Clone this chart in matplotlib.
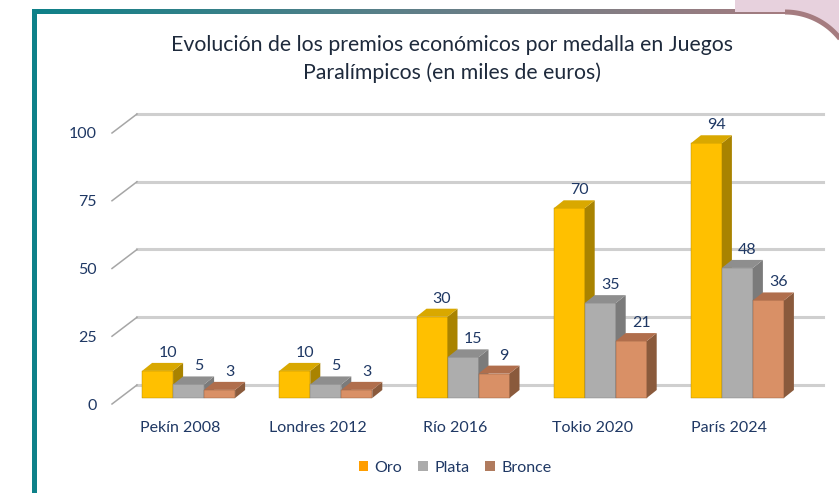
import numpy as np
import matplotlib.pyplot as plt
from matplotlib.patches import Polygon, Rectangle, Patch
from matplotlib.colors import LinearSegmentedColormap

plt.rcParams["font.family"] = ["Lato", "DejaVu Sans"]

# data (thousands of euros)
games = ["Pekín 2008", "Londres 2012", "Río 2016", "Tokio 2020", "París 2024"]
oro = [10, 10, 30, 70, 94]
plata = [5, 5, 15, 35, 48]
bronce = [3, 3, 9, 21, 36]
series_names = ["Oro", "Plata", "Bronce"]
yticks = [0, 25, 50, 75, 100]

# face colours: front, side, top, legend
styles = {
    "Oro": ("#FFC000", "#A98300", "#D9A800", "#FF9E00"),
    "Plata": ("#ADADAD", "#7B7B7B", "#8E8E8E", "#ABABAB"),
    "Bronce": ("#D99066", "#8A5A3C", "#B06E4C", "#B07B5E"),
}
navy = "#1F3864"

W, H = 839, 493
fig = plt.figure(figsize=(W / 100, H / 100), dpi=100)

# decorative frame
bg = fig.add_axes([0, 0, 1, 1], zorder=0)
bg.set_xlim(0, W)
bg.set_ylim(H, 0)
bg.axis("off")

pink = "#E7D1DD"
mauve = "#A57C80"
teal = "#0E8189"
r = 70
cx, cy = 785, 12 + r
t = np.linspace(0, np.arcsin((W + 5 - cx) / r), 40)
arc_x = cx + r * np.sin(t)
arc_y = cy - r * np.cos(t)
bg.add_patch(Rectangle((735, 0), W - 735, 12, color=pink, lw=0))
fill_pts = [(cx, 0), (W + 5, 0)] + list(zip(arc_x[::-1], arc_y[::-1]))
bg.add_patch(Polygon(fill_pts, closed=True, color=pink, lw=0))

grad = np.linspace(0, 1, 256).reshape(1, -1)
cmap = LinearSegmentedColormap.from_list("frame", [teal, "#5E7F88", mauve])
bg.imshow(grad, cmap=cmap, extent=(31.5, cx + 0.5, 14.5, 9.5), aspect="auto", interpolation="bilinear")
bg.plot(arc_x, arc_y, color=mauve, lw=3.6, solid_capstyle="butt")
bg.plot([33.5, 33.5], [9.5, H], color=teal, lw=3.6, solid_capstyle="butt")
bg.set_xlim(0, W)
bg.set_ylim(H, 0)

# main axes: front plane, 0 at y=404 px, 100 at y=133 px
ax_left, ax_right, ax_top, ax_bottom = 112, 798, 133, 404
ax = fig.add_axes([ax_left / W, (H - ax_bottom) / H,
                   (ax_right - ax_left) / W, (ax_bottom - ax_top) / H], zorder=1)
ax.set_xlim(-0.5, len(games) - 0.5)
ax.set_ylim(0, 100)
ax.patch.set_alpha(0)
for s in ax.spines.values():
    s.set_visible(False)

px_x = (ax_right - ax_left) / len(games)
px_y = (ax_bottom - ax_top) / 100.0


def dx(p):
    return p / px_x


def dy(p):
    return p / px_y


# back wall gridlines and side slants
for v in yticks:
    ax.plot([-0.5 + dx(25), len(games) - 0.5 + dx(25)], [v + dy(19)] * 2,
            color="#CFCFCF", lw=2.2, zorder=1, clip_on=False)
    ax.plot([-0.5, -0.5 + dx(25)], [v, v + dy(19)],
            color="#A6A6A6", lw=1.1, zorder=1, clip_on=False)

ax.set_yticks(yticks)
ax.set_yticklabels([str(v) for v in yticks])
ax.set_xticks(range(len(games)))
ax.set_xticklabels(games)
ax.tick_params(axis="y", length=0, pad=11, labelsize=11.5, labelcolor=navy)
ax.tick_params(axis="x", length=0, pad=12, labelsize=11.5, labelcolor=navy)

# 3D-looking bars
bw = dx(31)
ox, oy = dx(8), dy(6)
ddx, ddy = dx(10), dy(8)
z = 3
for i in range(len(games)):
    for k, (name, vals) in enumerate(zip(series_names, [oro, plata, bronce])):
        front_c, side_c, top_c, _ = styles[name]
        v = vals[i]
        x0 = i + ox + (k - 1.5) * bw
        y0 = oy
        ax.add_patch(Rectangle((x0, y0), bw, v, facecolor=front_c,
                               edgecolor=side_c, lw=0.3, zorder=z, clip_on=False))
        ax.add_patch(Polygon([(x0 + bw, y0), (x0 + bw + ddx, y0 + ddy),
                              (x0 + bw + ddx, y0 + v + ddy), (x0 + bw, y0 + v)],
                             closed=True, facecolor=side_c, lw=0, zorder=z, clip_on=False))
        ax.add_patch(Polygon([(x0, y0 + v), (x0 + ddx, y0 + v + ddy),
                              (x0 + bw + ddx, y0 + v + ddy), (x0 + bw, y0 + v)],
                             closed=True, facecolor=top_c, lw=0, zorder=z, clip_on=False))
        ax.text(x0 + bw / 2 + dx(10), y0 + v + dy(18), str(v), ha="center", va="center",
                fontsize=11.5, color=navy, zorder=10)
        z += 1

# title
fig.text(452 / W, 1 - 45 / H, "Evolución de los premios económicos por medalla en Juegos",
         ha="center", va="center", fontsize=15.3, color="#1E2A3C")
fig.text(452 / W, 1 - 73 / H, "Paralímpicos (en miles de euros)",
         ha="center", va="center", fontsize=15.3, color="#1E2A3C")

handles = [Patch(facecolor=styles[n][3], edgecolor="none", label=n) for n in series_names]
leg = fig.legend(handles=handles, loc="center", bbox_to_anchor=(455 / W, 1 - 468 / H),
                 ncol=3, frameon=False, fontsize=11.5, handlelength=0.6, handleheight=0.6,
                 handletextpad=0.4, columnspacing=1.0)
for txt in leg.get_texts():
    txt.set_color(navy)

fig.savefig("out.png", dpi=100)
